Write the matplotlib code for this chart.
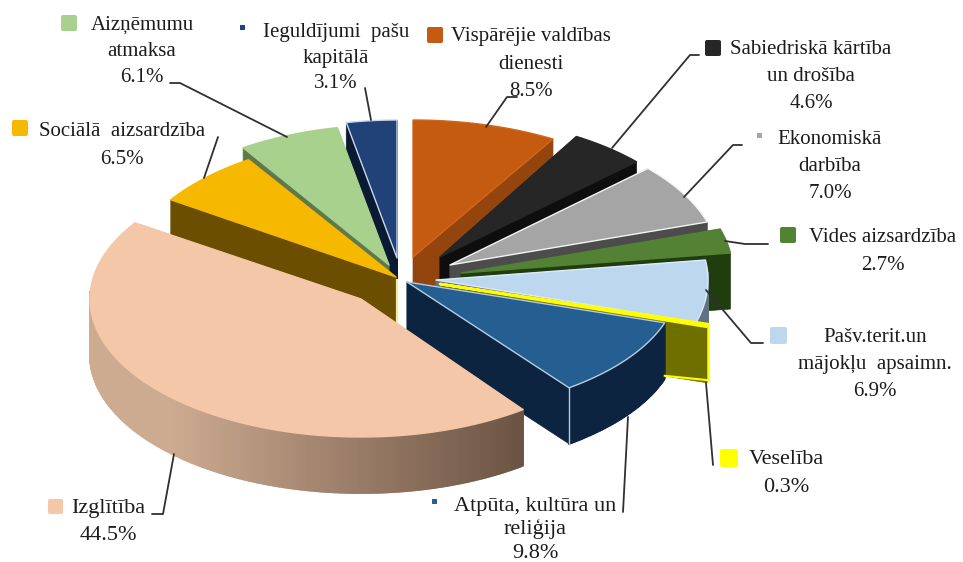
import numpy as np
import matplotlib
matplotlib.use('Agg')
import matplotlib.pyplot as plt
from matplotlib.patches import Polygon, FancyBboxPatch
from matplotlib.colors import to_rgb

plt.rcParams['font.family'] = ['Liberation Serif', 'DejaVu Serif']

# ============ data, clockwise from 12 o'clock ============
names = ['Vispārējie valdības dienesti', 'Sabiedriskā kārtība un drošība', 'Ekonomiskā darbība',
         'Vides aizsardzība', 'Pašv.terit.un mājokļu apsaimn.', 'Veselība',
         'Atpūta, kultūra un reliģija', 'Izglītība', 'Sociālā aizsardzība',
         'Aizņēmumu atmaksa', 'Ieguldījumi pašu kapitālā']
shares = [8.5, 4.6, 7.0, 2.7, 6.9, 0.3, 9.8, 44.5, 6.5, 6.1, 3.1]

top_colors = ['#c55a11', '#262626', '#a5a5a5', '#548235', '#bdd7ee', '#ffff00',
              '#255e91', '#f4c7a8', '#f7b900', '#a9d18e', '#204279']
wall_colors = ['#94450e', '#0e0e0e', '#4c4c4c', '#203d10', '#5f7384', '#6f6f00',
               '#0d2440', '#b89a80', '#6b4e00', '#5f7a4a', '#0b1a33']
edge_colors = ['#d0661c', '#262626', '#f4f4f4', '#548235', '#dcebf7', '#ffff00',
               '#b5cde2', '#f4c7a8', '#f7b900', '#a9d18e', '#c8d8ea']
edge_widths = [1, 1, 1, 1, 1, 2.0, 1, 1, 1, 1, 1]

# exploded layout: apex of every slice and its ellipse radii, in pixels
apex_x = [413, 440, 450, 461, 436, 440, 407, 361, 396, 389, 397]
apex_y = [257, 257, 265, 273, 280, 284, 282, 299, 277, 265, 258]
radius_x = [275, 268, 270, 272, 272, 280, 271, 271, 270, 267, 262]
radius_y = [137, 140, 142, 145, 145, 138, 132, 138, 140, 140, 138]
depth = 56

# back slices first, front slices cover them
draw_order = [0, 10, 9, 1, 2, 8, 3, 4, 5, 6, 7]

# Izgl rim shade, left to right
rim_left = '#cdab91'
rim_right = '#6b5343'

label_lines = [['Vispārējie valdības', 'dienesti', '8.5%'],
               ['Sabiedriskā kārtība', 'un drošība', '4.6%'],
               ['Ekonomiskā', 'darbība', '7.0%'],
               ['Vides aizsardzība', '2.7%'],
               ['Pašv.terit.un', 'mājokļu  apsaimn.', '6.9%'],
               ['Veselība', '0.3%'],
               ['Atpūta, kultūra un', 'reliģija', '9.8%'],
               ['Izglītība', '44.5%'],
               ['Sociālā  aizsardzība', '6.5%'],
               ['Aizņēmumu', 'atmaksa', '6.1%'],
               ['Ieguldījumi  pašu', 'kapitālā', '3.1%']]
label_x = [531, 811, 830, 883, 875, 786, 535, 108, 122, 142, 336]
label_y = [37, 50, 140, 238, 337, 460, 506, 508, 132, 25, 32]
line_step = [27.5, 26.5, 26.5, 27, 27.5, 27, 23.5, 28, 27, 26.5, 26]
label_size = [15, 15, 15, 15, 15, 16, 16, 16, 15, 15, 15]

key_x = [427, 705, 757, 780, 770, 720, 432, 48, 12, 61, 240]
key_y = [27, 40, 133, 227, 327, 449, 499, 499, 120, 15, 25]
key_size = [16, 16, 5, 16, 17, 18, 5, 15, 16, 16, 5]

leader_lines = [[(517, 97), (507, 97), (486, 127)],
                [(699, 55), (690, 55), (612, 148)],
                [(742, 145), (733, 145), (684, 197)],
                [(768, 244), (745, 244), (725, 241)],
                [(706, 290), (751, 343), (763, 343)],
                [(706, 383), (713, 465)],
                [(628, 417), (623, 512)],
                [(174, 454), (163, 514), (152, 514)],
                [(218, 137), (204, 178)],
                [(170, 83), (180, 83), (287, 137)],
                [(365, 88), (371, 120)]]


def slice_points(i, start, end):
    # points on the flattened circle, angle in degrees clockwise from top
    ang = np.radians(np.linspace(start, end, max(int(end - start) * 2, 2)))
    x = apex_x[i] + radius_x[i] * np.sin(ang)
    y = apex_y[i] - radius_y[i] * np.cos(ang)
    return x, y


def draw_slice(ax, i, start, end):
    x, y = slice_points(i, start, end)
    ax_, ay_ = apex_x[i], apex_y[i]

    # radial walls
    for px, py in [(x[0], y[0]), (x[-1], y[-1])]:
        ax.add_patch(Polygon([(ax_, ay_), (px, py), (px, py + depth), (ax_, ay_ + depth)],
                             closed=True, fc=wall_colors[i], ec=wall_colors[i], lw=0.5))

    # rim, only the part facing us, split so it can be shaded
    ang = np.radians(np.linspace(start, end, len(x)))
    for k in range(len(x) - 1):
        if np.cos(ang[k]) > 0.05 and np.cos(ang[k + 1]) > 0.05:
            continue
        col = wall_colors[i]
        if names[i] == 'Izglītība':
            t = np.clip((x[k] - 170) / (524 - 170), 0, 1)
            col = tuple((1 - t) * a + t * b for a, b in zip(to_rgb(rim_left), to_rgb(rim_right)))
        ax.add_patch(Polygon([(x[k], y[k]), (x[k + 1], y[k + 1]),
                              (x[k + 1], y[k + 1] + depth), (x[k], y[k] + depth)],
                             closed=True, fc=col, ec=col, lw=1.3))

    # top face
    ax.add_patch(Polygon(np.column_stack([np.r_[ax_, x], np.r_[ay_, y]]), closed=True,
                         fc=top_colors[i], ec=edge_colors[i], lw=edge_widths[i], joinstyle='round'))


fig = plt.figure(figsize=(9.63, 5.62), dpi=100)
ax = fig.add_axes([0, 0, 1, 1])
ax.set_xlim(0, 963)
ax.set_ylim(562, 0)
ax.axis('off')

angles = np.r_[0, np.cumsum(shares)] / np.sum(shares) * 360.0
for i in draw_order:
    if names[i] == 'Izglītība':
        # pale line between the left and right halves, peach slice covers its lower end
        ax.plot([apex_x[10], apex_x[10]], [apex_y[10] + 22, apex_y[10] + depth + 8], color='#f5ea9a', lw=1.6)
    draw_slice(ax, i, angles[i], angles[i + 1])

# corner line of the blue slice wall
i_blue = 6
bx, by = slice_points(i_blue, angles[i_blue], angles[i_blue + 1])
ax.plot([bx[-1], bx[-1]], [by[-1], by[-1] + depth], color=edge_colors[i_blue], lw=1.0)
# bright edge of the yellow slice wall
i_yel = 5
yx, yy = slice_points(i_yel, angles[i_yel], angles[i_yel + 1])
ax.plot([yx[0], yx[0]], [yy[0], yy[0] + depth], color='#ffff00', lw=1.8)
ax.plot([yx[0], bx[0]], [yy[0] + depth, by[0] + depth - 3], color='#ffff00', lw=1.5)

for pts in leader_lines:
    xs, ys = zip(*pts)
    ax.plot(xs, ys, color='#303030', lw=1.3, solid_capstyle='round', zorder=5)

for i, lines in enumerate(label_lines):
    for k, line in enumerate(lines):
        ax.text(label_x[i], label_y[i] + k * line_step[i], line, ha='center', va='center',
                fontsize=label_size[i], color='#1c1c1c', zorder=6)
    s = key_size[i]
    pad = 2 if s > 8 else 0.5
    ax.add_patch(FancyBboxPatch((key_x[i] + pad, key_y[i] + pad), s - 2 * pad, s - 2 * pad,
                                boxstyle=f'round,pad={pad}', fc=top_colors[i], ec='none', zorder=6))

fig.savefig('out.png', dpi=100, facecolor='white')
